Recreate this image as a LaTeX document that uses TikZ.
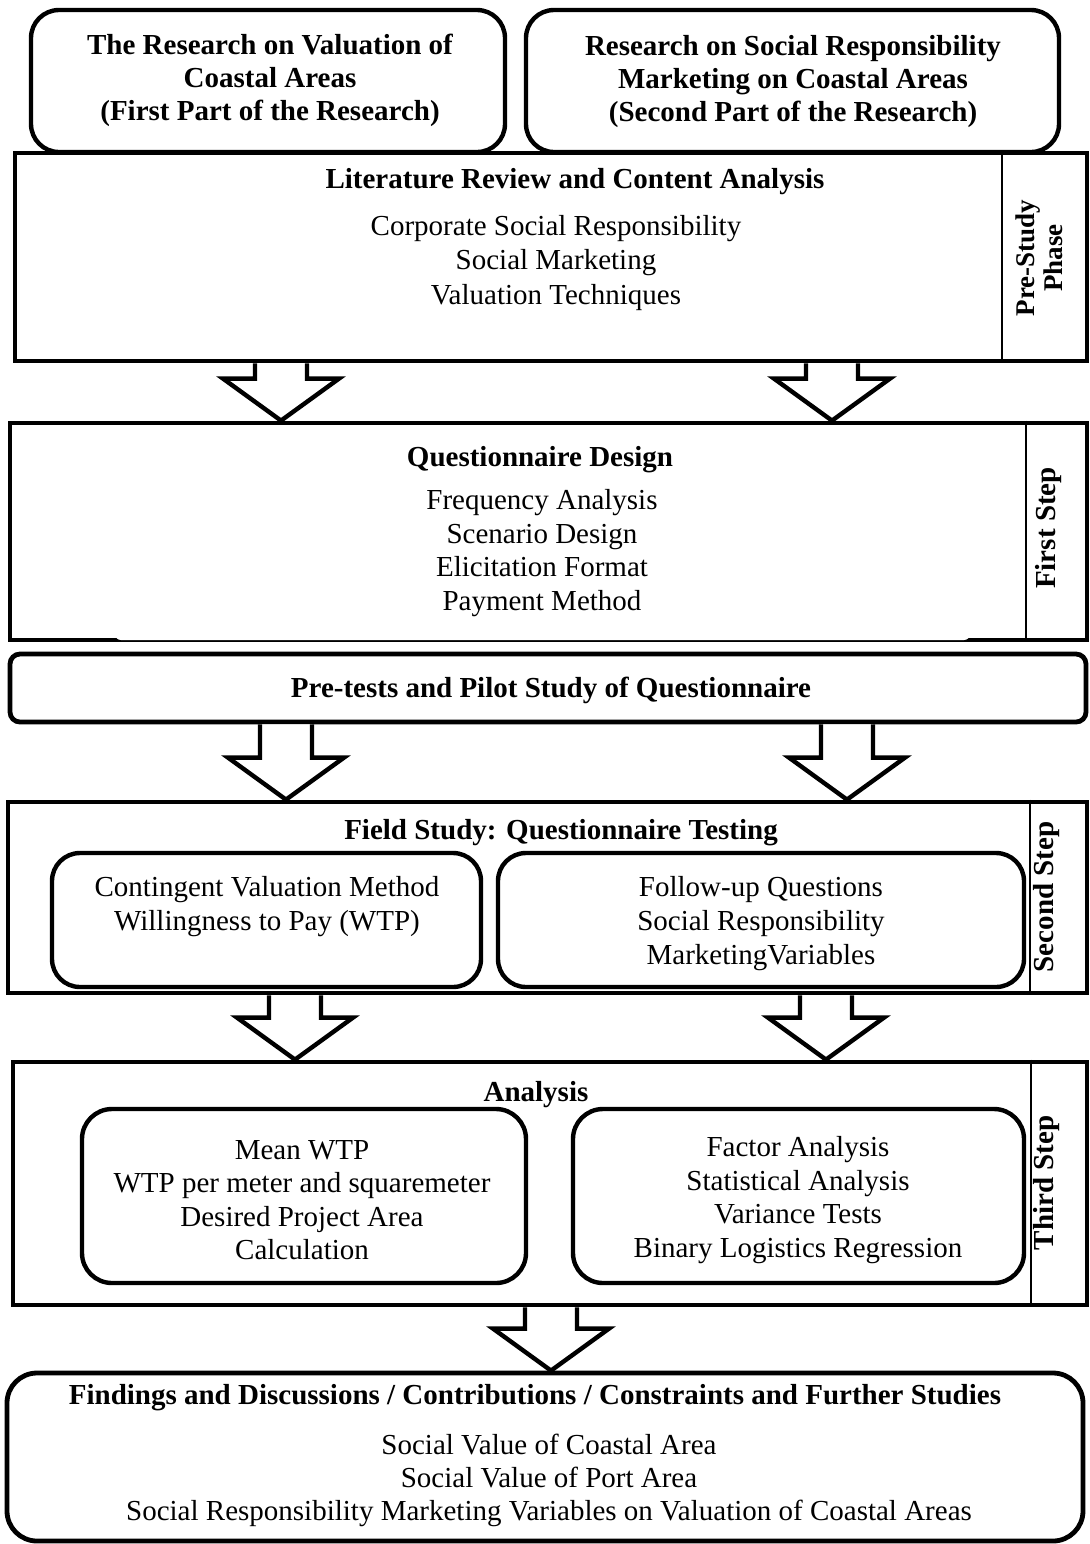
\documentclass[tikz,border=0pt]{standalone}
\usepackage{fontspec}
\setmainfont{Liberation Serif}
\usetikzlibrary{fit,calc}
\begin{document}
\begin{tikzpicture}[x=0.5pt,y=-0.5pt,
  frame/.style={draw,line width=2.4pt,inner sep=0pt},
  roundbox/.style={frame,line width=2.2pt,rounded corners=14pt},
  innerbox/.style={frame,line width=2.2pt,rounded corners=14pt},
  sepline/.style={line width=0.8pt},
  body/.style={font=\fontsize{14.5}{17}\selectfont,align=center,inner sep=0pt},
  head/.style={font=\bfseries\fontsize{14.5}{16.5}\selectfont,align=center,inner sep=0pt},
  phase/.style={font=\bfseries\fontsize{14.5}{14}\selectfont,align=center,inner sep=0pt,rotate=90},
  barrow/.style={draw,line width=2.2pt,fill=white,line join=miter}
]
\useasboundingbox (0,0) rectangle (1089,1544);

% hollow block arrow from the bottom of one box to the top of the next
\newcommand\blockarrow[3]{%
  \draw[barrow] let \p0=(#1,0), \p1=(#2.south), \p2=(#3.north) in
    (\x0-13pt,\y1) -- (\x0-13pt,\y2+21pt) -- (\x0-29pt,\y2+21pt) -- (\x0,\y2)
    -- (\x0+29pt,\y2+21pt) -- (\x0+13pt,\y2+21pt) -- (\x0+13pt,\y1);}

% the two parts of the research
\node[roundbox,fit={(31,10)(505,152)}] (partA) {};
\node[roundbox,fit={(526,10)(1059,152)}] (partB) {};
\node[head] (partAtxt) at (270,80) {The Research on Valuation of\\Coastal Areas\\(First Part of the Research)};
\node[head] (partBtxt) at (793,82) {Research on Social Responsibility\\Marketing on Coastal Areas\\(Second Part of the Research)};

% pre-study phase
\node[frame,fit={(15,153)(1087,361)}] (lit) {};
\coordinate (s1) at (1002,0);
\draw[sepline] (s1 |- lit.north) -- (s1 |- lit.south);
\node[head] (littitle) at (575,182) {Literature Review and Content Analysis};
\node[body,font=\fontsize{14.5}{17.25}\selectfont] (littxt) at (556,263) {Corporate Social Responsibility\\Social Marketing\\Valuation Techniques};
\node[phase,font=\bfseries\fontsize{13.5}{14}\selectfont] (litphase) at (1039,258) {Pre-Study\\Phase};

% first step
\node[frame,fit={(10,423)(1087,640)}] (qd) {};
% lighter stretch of the bottom edge
\fill[white,rounded corners=3pt] (115,628) rectangle (970,640);
\coordinate (s2) at (1026,0);
\draw[sepline] (s2 |- qd.north) -- (s2 |- qd.south);
\node[head] (qdtitle) at (540,460) {Questionnaire Design};
\node[body,font=\fontsize{14.5}{16.7}\selectfont] (qdtxt) at (542,553) {Frequency Analysis\\Scenario Design\\Elicitation Format\\Payment Method};
\node[phase] (qdphase) at (1049,528) {First Step};

% pilot study
\node[frame,rounded corners=5pt,fit={(10,654)(1086,722)}] (pilot) {};
\node[head] (pilottxt) at (551,690) {Pre-tests and Pilot Study of Questionnaire};

% second step
\node[frame,fit={(8,802)(1087,993)}] (field) {};
\coordinate (s3) at (1030,0);
\draw[sepline] (s3 |- field.north) -- (s3 |- field.south);
\node[head] (fieldtitle) at (561,833) {Field Study: Questionnaire Testing};
\node[innerbox,fit={(52,853)(481,987)}] (cvm) {};
\node[innerbox,fit={(498,853)(1024,987)}] (follow) {};
\node[body] (cvmtxt) at (267,907) {Contingent Valuation Method\\Willingness to Pay (WTP)};
\node[body] (followtxt) at (761,924) {Follow-up Questions\\Social Responsibility\\MarketingVariables};
\node[phase] (fieldphase) at (1047,897) {Second Step};

% third step
\node[frame,fit={(13,1062)(1087,1305)}] (ana) {};
\coordinate (s4) at (1031,0);
\draw[sepline] (s4 |- ana.north) -- (s4 |- ana.south);
\node[head] (anatitle) at (536,1095) {Analysis};
\node[innerbox,rounded corners=15pt,fit={(82,1109)(526,1283)}] (wtp) {};
\node[innerbox,rounded corners=15pt,fit={(573,1109)(1024,1283)}] (stat) {};
\node[body,font=\fontsize{14.5}{16.7}\selectfont] (wtptxt) at (302,1200) {Mean WTP\\WTP per meter and squaremeter\\Desired Project Area\\Calculation};
\node[body,font=\fontsize{14.5}{16.7}\selectfont] (stattxt) at (798,1200) {Factor Analysis\\Statistical Analysis\\Variance Tests\\Binary Logistics Regression};
\node[phase] (anaphase) at (1047,1183) {Third Step};

% results
\node[frame,rounded corners=15pt,fit={(7,1373)(1083,1541)}] (res) {};
\node[head] (restitle) at (535,1398) {Findings and Discussions / Contributions / Constraints and Further Studies};
\node[body,font=\fontsize{14.5}{16.5}\selectfont] (restxt) at (549,1480) {Social Value of Coastal Area\\Social Value of Port Area\\Social Responsibility Marketing Variables on Valuation of Coastal Areas};

% flow arrows
\blockarrow{281}{lit}{qd}
\blockarrow{832}{lit}{qd}
\blockarrow{286}{pilot}{field}
\blockarrow{847}{pilot}{field}
\blockarrow{295}{field}{ana}
\blockarrow{826}{field}{ana}
\blockarrow{551}{ana}{res}
\end{tikzpicture}
\end{document}
